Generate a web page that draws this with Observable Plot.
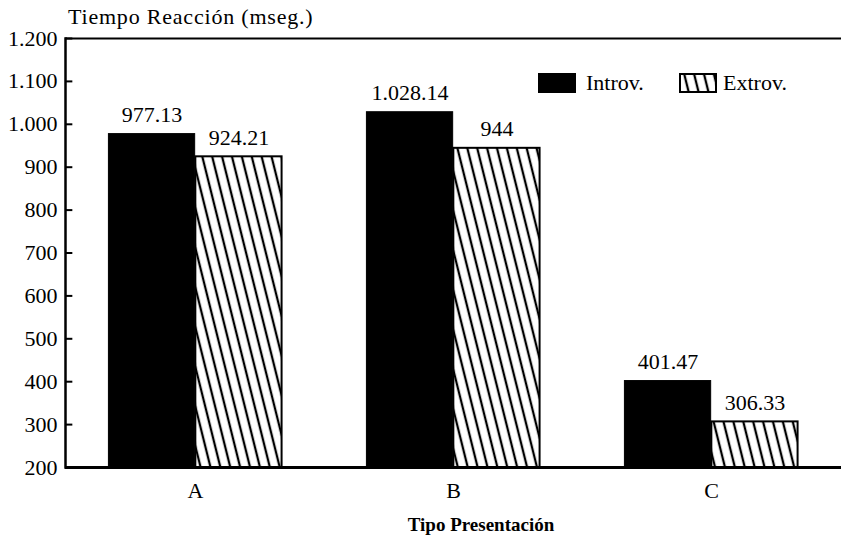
<!DOCTYPE html>
<html>
<head>
<meta charset="utf-8">
<script src="https://cdn.jsdelivr.net/npm/d3@7"></script>
<script src="https://cdn.jsdelivr.net/npm/@observablehq/plot@0.6"></script>
<style>
  body { margin: 0; background: #fff; }
  #wrap { position: relative; width: 841px; height: 542px; font-family: "Liberation Serif", "Times New Roman", serif; color: #000; }
  #title { position: absolute; left: 68px; top: 3px; height: 28px; line-height: 28px; font-size: 22px; letter-spacing: 0.8px; white-space: nowrap; }
  #xlabel { position: absolute; left: 0; width: 962px; top: 507px; height: 36px; line-height: 36px; text-align: center; font-size: 19px; font-weight: bold; }
  .item { position: absolute; top: 72px; height: 22px; display: flex; align-items: center; font-size: 22px; white-space: nowrap; }
  .item svg { display: block; }
</style>
</head>
<body>
<svg width="0" height="0" style="position:absolute">
  <defs>
    <pattern id="hatch" patternUnits="userSpaceOnUse" width="9.6" height="20" patternTransform="rotate(-14)">
      <rect width="9.6" height="20" fill="#fff"></rect>
      <line x1="4.8" y1="-2" x2="4.8" y2="22" stroke="#000" stroke-width="2.3"></line>
    </pattern>
  </defs>
</svg>
<div id="wrap">
  <div id="chart"></div>
  <div id="title"></div>
  <div id="xlabel"></div>
</div>
<script>
const titleText = "Tiempo Reacción (mseg.)";
const xTitle = "Tipo Presentación";
const groups = ["A", "B", "C"];
const series = ["Introv.", "Extrov."];
const introv = [977.13, 1028.14, 401.47];
const extrov = [924.21, 944, 306.33];
const introvLabels = ["977.13", "1.028.14", "401.47"];
const extrovLabels = ["924.21", "944", "306.33"];
const yTicks = [200, 300, 400, 500, 600, 700, 800, 900, 1000, 1100, 1200];
const yTickLabels = ["200", "300", "400", "500", "600", "700", "800", "900", "1.000", "1.100", "1.200"];

const introvRows = groups.map((g, i) => ({group: g, value: introv[i], label: introvLabels[i]}));
const extrovRows = groups.map((g, i) => ({group: g, value: extrov[i], label: extrovLabels[i]}));
const yMin = yTicks[0], yMax = yTicks[yTicks.length - 1];
const FONT = "'Liberation Serif', 'Times New Roman', serif";

document.getElementById("title").textContent = titleText;
document.getElementById("xlabel").textContent = xTitle;

// layout (style) constants
const W = 841, ML = 65, MR = 0;
const bw = (W - ML - MR) / groups.length;   // band width of each group
const barW = bw * 0.336;                    // width of one bar
const half = bw / 2;
const tickLen = 7;

const chart = Plot.plot({
  width: W,
  height: 507,
  marginTop: 38,
  marginBottom: 40,
  marginLeft: ML,
  marginRight: MR,
  style: {fontFamily: FONT, fontSize: "22px", color: "#000", background: "#fff"},
  x: {domain: groups, padding: 0, label: null},
  y: {domain: [yMin, yMax], label: null},
  marks: [
    Plot.barY(introvRows, {x: "group", y1: yMin, y2: "value", insetLeft: half - barW, insetRight: half, fill: "#000", stroke: "#000", strokeWidth: 1}),
    Plot.barY(extrovRows, {x: "group", y1: yMin, y2: "value", insetLeft: half, insetRight: half - barW, fill: "url(#hatch)", stroke: "#000", strokeWidth: 2}),
    Plot.text(introvRows, {x: "group", y: "value", text: "label", dx: -barW / 2, dy: -19, fontSize: 22, fill: "#000"}),
    Plot.text(extrovRows, {x: "group", y: "value", text: "label", dx: barW / 2, dy: -19, fontSize: 22, fill: "#000"}),
    Plot.ruleY([yMax], {stroke: "#000", strokeWidth: 2}),
    Plot.ruleY([yMin], {stroke: "#000", strokeWidth: 3}),
    Plot.ruleY(yTicks, {y: d => d, x1: () => groups[0], x2: () => groups[0], insetRight: bw - tickLen, stroke: "#000", strokeWidth: 2}),
    Plot.frame({anchor: "left", stroke: "#000", strokeWidth: 2.5}),
    Plot.axisY({ticks: yTicks, tickFormat: d => yTickLabels[yTicks.indexOf(d)], tickSize: 0, tickPadding: 8, label: null, fontSize: 22}),
    Plot.axisX({anchor: "bottom", tickSize: 0, tickPadding: 15, label: null, fontSize: 22})
  ]
});
document.getElementById("chart").appendChild(chart);

// legend
const wrap = document.getElementById("wrap");
const fills = ["#000", "url(#hatch)"];
const lefts = [538, 679];
const ns = "http://www.w3.org/2000/svg";
series.forEach((s, i) => {
  const item = document.createElement("div");
  item.className = "item";
  item.style.left = lefts[i] + "px";
  const sw = document.createElementNS(ns, "svg");
  sw.setAttribute("width", 38); sw.setAttribute("height", 20);
  const r = document.createElementNS(ns, "rect");
  r.setAttribute("x", 1); r.setAttribute("y", 1); r.setAttribute("width", 36); r.setAttribute("height", 18);
  r.setAttribute("fill", fills[i]); r.setAttribute("stroke", "#000"); r.setAttribute("stroke-width", 2);
  sw.appendChild(r);
  const t = document.createElement("span");
  t.textContent = s;
  t.style.marginLeft = (i === 0 ? 10 : 6) + "px";
  item.appendChild(sw); item.appendChild(t);
  wrap.appendChild(item);
});
</script>
</body>
</html>
